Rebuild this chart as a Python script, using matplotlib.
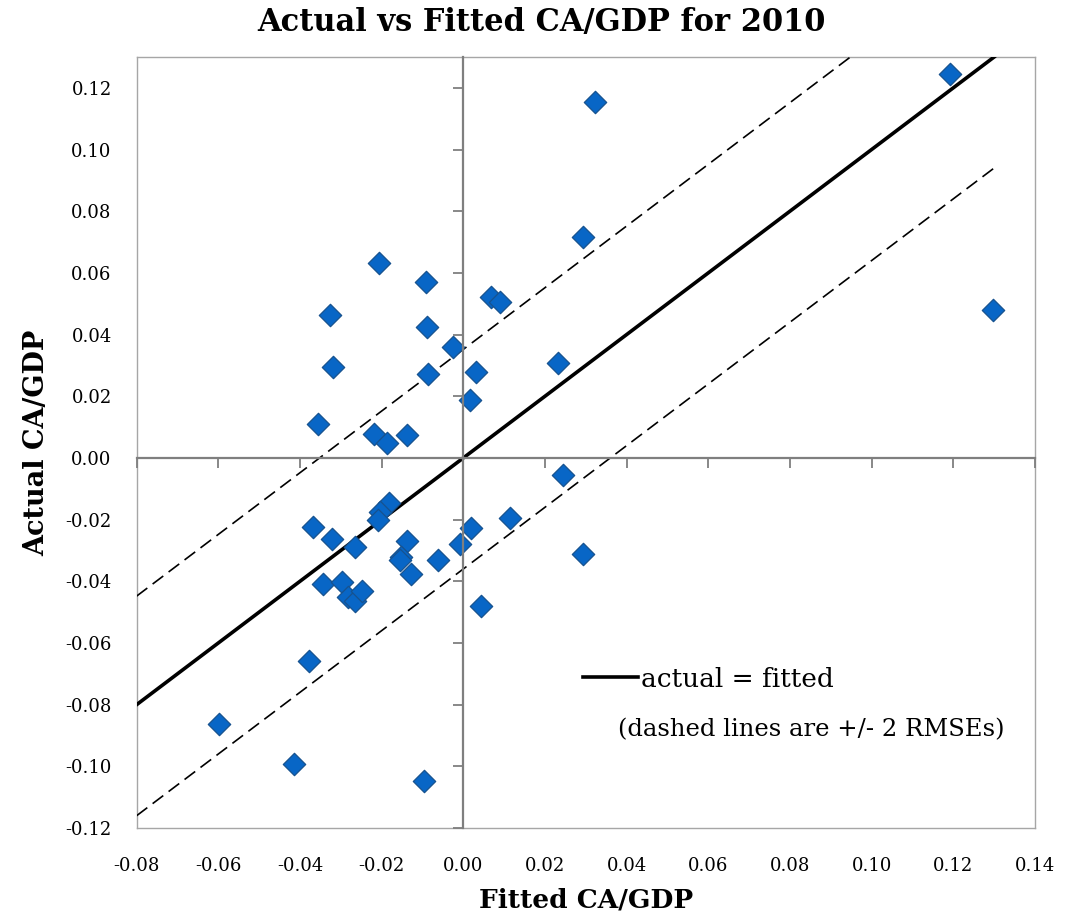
import matplotlib.pyplot as plt
from matplotlib.lines import Line2D
from matplotlib.ticker import FormatStrFormatter
import numpy as np

plt.rcParams['font.family'] = ['DejaVu Serif']
plt.rcParams['axes.unicode_minus'] = False

# fitted vs actual CA/GDP
fitted = [0.0292, -0.0206, -0.0092, 0.0069, 0.0089, -0.0327, -0.0090, -0.0026,
          -0.0319, -0.0086, 0.0032, 0.0233, 0.0016, -0.0355, -0.0219, -0.0188,
          -0.0137, 0.0244, 0.0322, 0.1193, 0.1296,
          -0.0182, -0.0204, -0.0210, -0.0368, -0.0321, -0.0266, -0.0138, -0.0153,
          -0.0156, -0.0062, -0.0009, 0.0020, 0.0114, 0.0292, -0.0129, -0.0343,
          -0.0296, -0.0282, -0.0266, -0.0247, 0.0043, -0.0377,
          -0.0599, -0.0414, -0.0097]
actual = [0.0715, 0.0632, 0.0569, 0.0523, 0.0507, 0.0463, 0.0425, 0.0360,
          0.0294, 0.0272, 0.0278, 0.0309, 0.0187, 0.0110, 0.0079, 0.0047,
          0.0074, -0.0056, 0.1154, 0.1244, 0.0480,
          -0.0146, -0.0176, -0.0200, -0.0224, -0.0264, -0.0289, -0.0268, -0.0320,
          -0.0332, -0.0330, -0.0278, -0.0226, -0.0195, -0.0313, -0.0376, -0.0409,
          -0.0401, -0.0452, -0.0463, -0.0432, -0.0481, -0.0660,
          -0.0862, -0.0992, -0.1048]

band_upper = 0.0352
band_lower = -0.0360

x_ticks = np.arange(-0.08, 0.141, 0.02)
y_ticks = np.arange(-0.12, 0.121, 0.02)

fig = plt.figure(figsize=(10.66, 9.19), dpi=100)
pos = [0.1282, 0.099, 0.8427, 0.839]
ax = fig.add_axes(pos)
ax.set_xlim(-0.08, 0.14)
ax.set_ylim(-0.12, 0.13)

# 45 degree line and +/- 2 RMSE band
xl = np.array([-0.08, 0.13])
ax.plot(xl, xl, color='black', lw=2.6, zorder=3)
xu = np.array([-0.08, 0.13 - band_upper])
ax.plot(xu, xu + band_upper, color='black', lw=1.2, dashes=(8, 4), zorder=3)
xd = np.array([-0.08, 0.13])
ax.plot(xd, xd + band_lower, color='black', lw=1.2, dashes=(8, 4), zorder=3)

ax.scatter(fitted, actual, marker='D', s=130, color='#0866C6',
           edgecolor='#17528F', linewidth=0.9, zorder=4)

# frame + labels at the edges
for s in ax.spines.values():
    s.set_color('#A6A6A6')
    s.set_linewidth(1.0)
ax.set_xticks(x_ticks)
ax.set_yticks(y_ticks)
ax.xaxis.set_major_formatter(FormatStrFormatter('%.2f'))
ax.yaxis.set_major_formatter(FormatStrFormatter('%.2f'))
ax.tick_params(axis='both', length=0, labelsize=13)
ax.tick_params(axis='y', pad=18)
ax.tick_params(axis='x', pad=21)

# axes crossing at zero, with their own tick marks
ax2 = fig.add_axes(pos, sharex=ax, sharey=ax)
ax2.patch.set_visible(False)
for name in ['top', 'right']:
    ax2.spines[name].set_visible(False)
for name in ['left', 'bottom']:
    ax2.spines[name].set_position(('data', 0))
    ax2.spines[name].set_color('#7F7F7F')
    ax2.spines[name].set_linewidth(1.6)
ax2.tick_params(axis='both', direction='out', length=7, width=1.3,
                color='#7F7F7F', labelleft=False, labelbottom=False)

fig.text(0.508, 0.976, 'Actual vs Fitted CA/GDP for 2010', fontsize=22,
         fontweight='bold', ha='center', va='center')
ax.set_xlabel('Fitted CA/GDP', fontsize=19, fontweight='bold', labelpad=9)
ax.set_ylabel('Actual CA/GDP', fontsize=19.5, fontweight='bold', labelpad=11)

ax.legend(handles=[Line2D([], [], color='black', lw=2.6)],
          labels=['actual = fitted'], frameon=False, fontsize=19,
          handlelength=2.1, handletextpad=0.1,
          loc='upper left', bbox_to_anchor=(0.47, 0.24))
ax.text(0.966, 0.128, '(dashed lines are +/- 2 RMSEs)', transform=ax.transAxes,
        fontsize=17.5, ha='right', va='center')

fig.savefig('out.png', dpi=100)
